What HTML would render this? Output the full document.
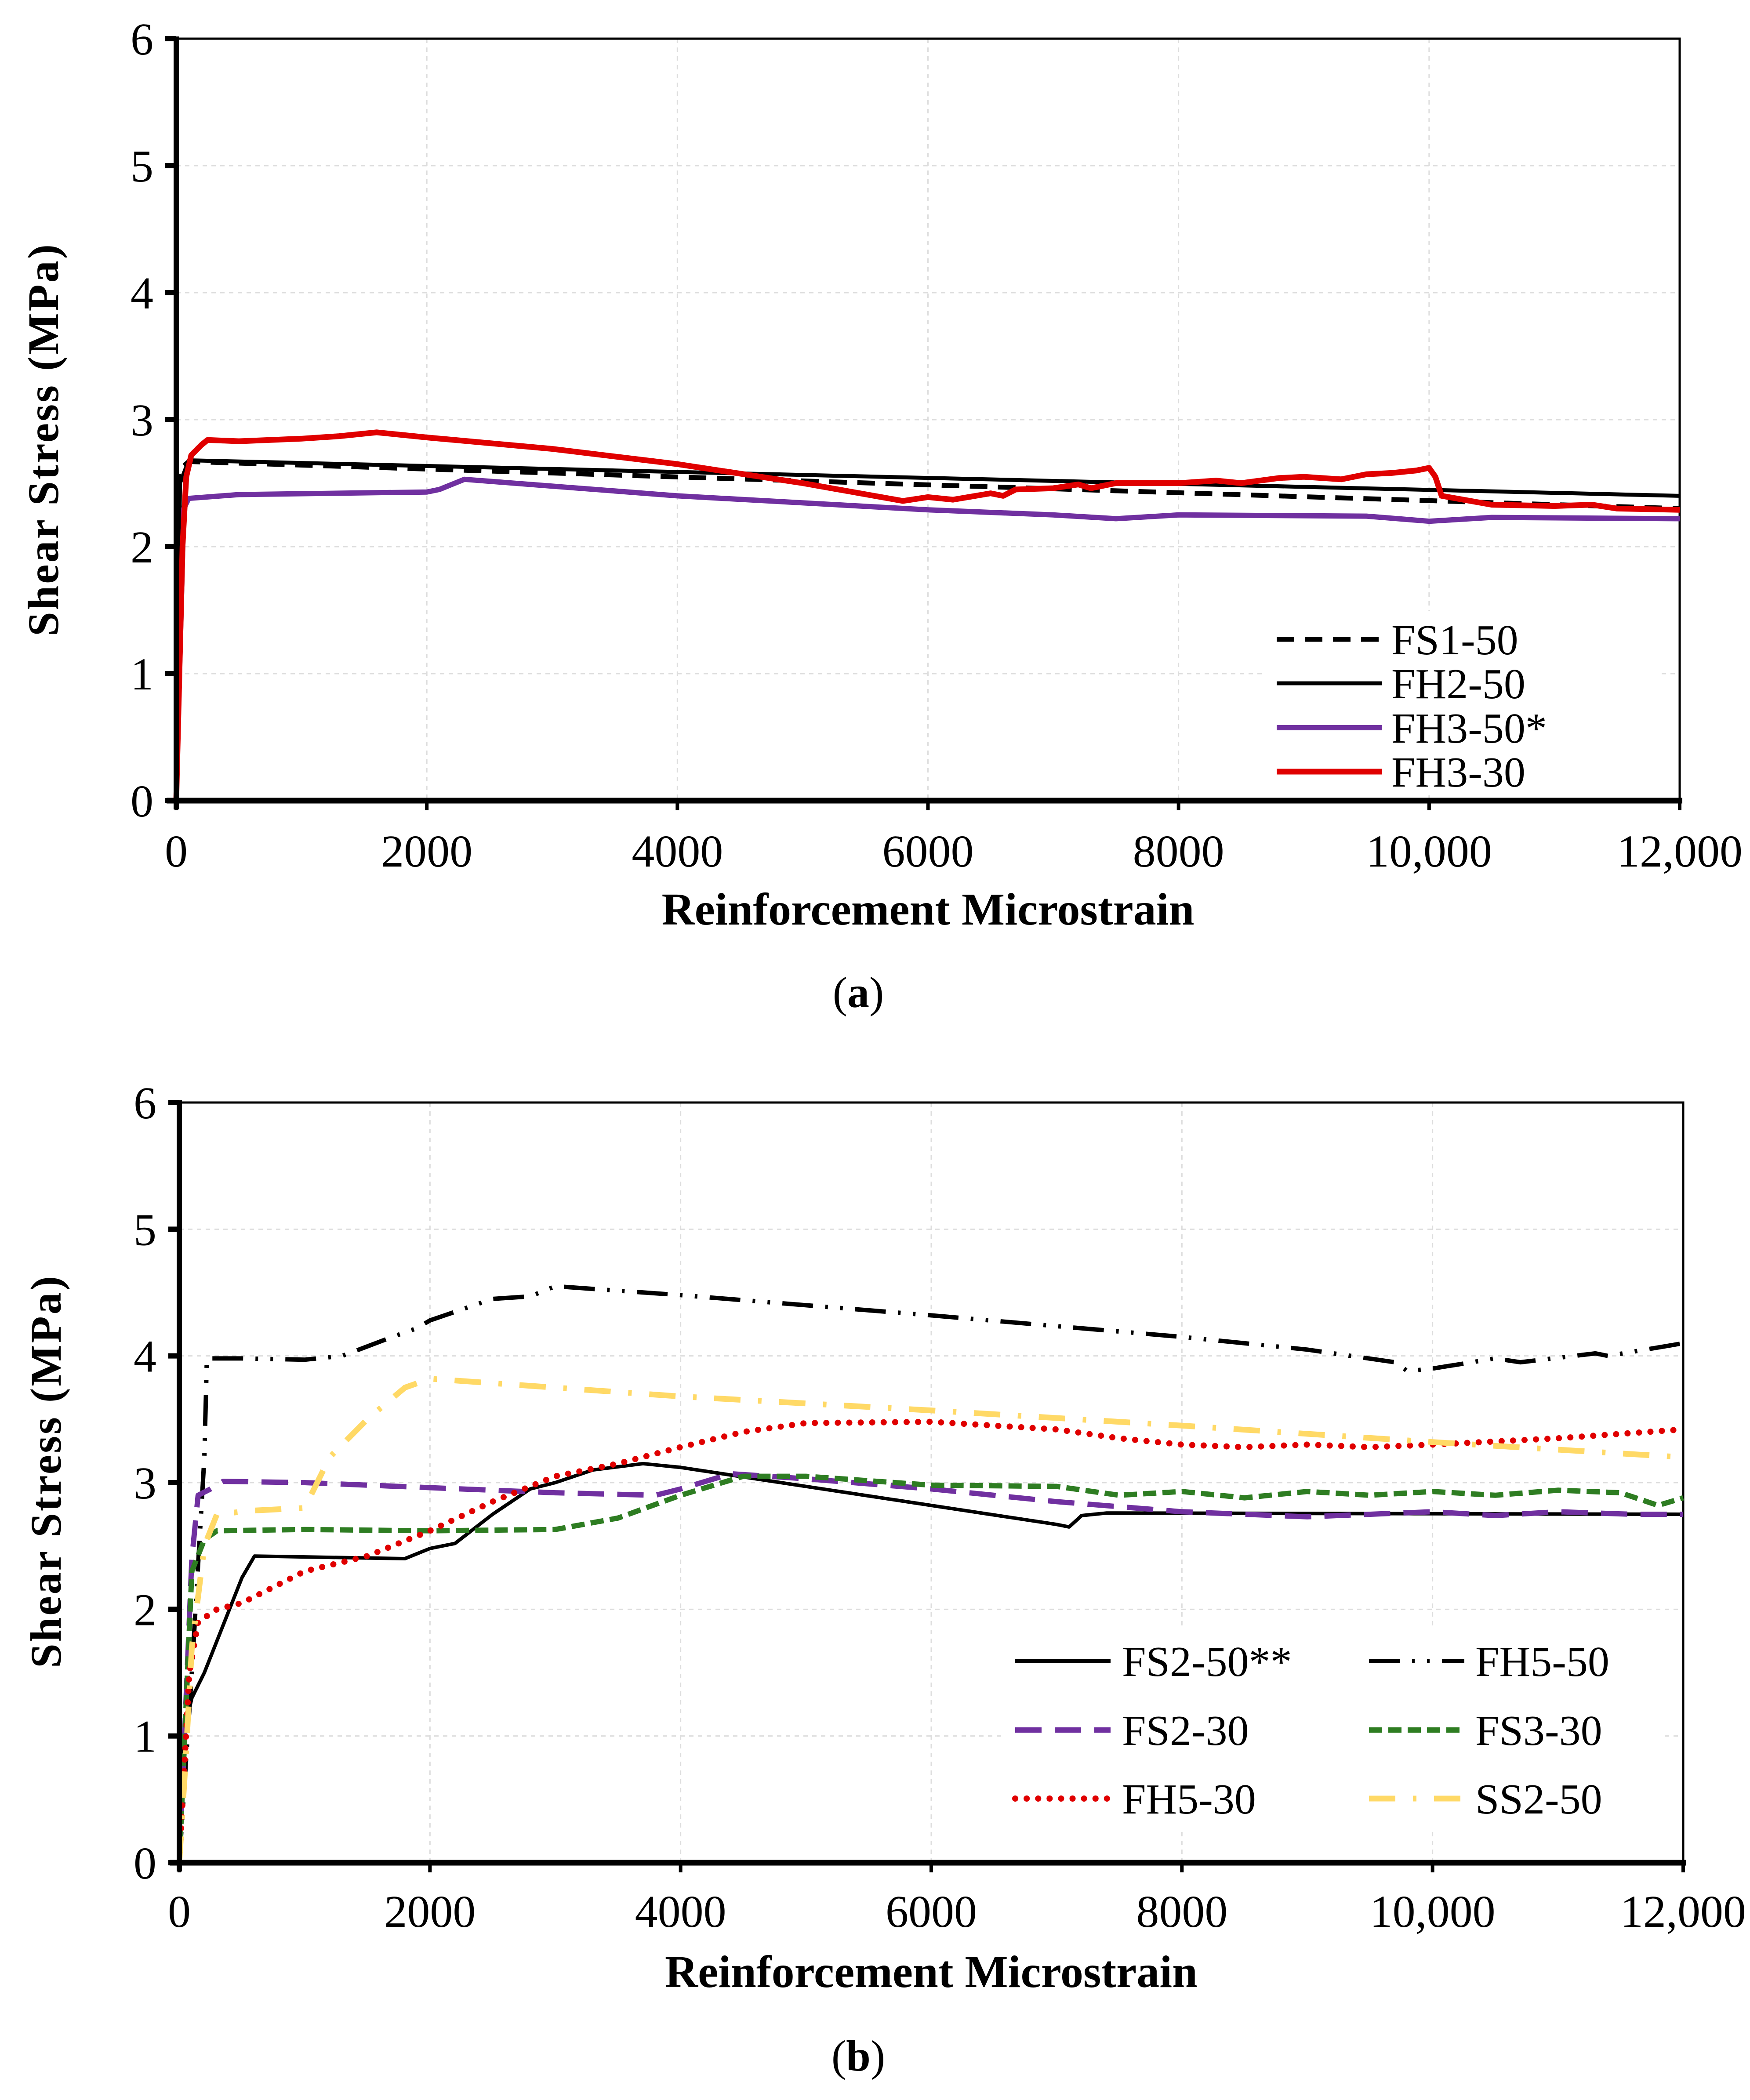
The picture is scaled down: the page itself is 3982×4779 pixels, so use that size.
<!DOCTYPE html>
<html><head><meta charset="utf-8"><style>
html,body{margin:0;padding:0;background:#fff;}
svg{display:block;font-family:"Liberation Serif",serif;}
</style></head><body>
<svg id="fig" width="3982" height="4779" viewBox="0 0 3982 4779" xmlns="http://www.w3.org/2000/svg">
<rect width="3982" height="4779" fill="#fff"/>
</svg>
<script>
// ---- Chart (a) data ----
const aFS150x=[0,20,100,12000];
const aFS150y=[0,2.6,2.67,2.3];
const aFH250x=[0,30,100,12000];
const aFH250y=[0,2.5,2.68,2.4];
const aFH350x=[0,60,100,500,2000,2100,2300,4000,6000,7000,7500,8000,9500,10000,10500,12000];
const aFH350y=[0,2.3,2.38,2.41,2.43,2.45,2.53,2.4,2.29,2.25,2.22,2.25,2.24,2.2,2.23,2.22];
const aFH330x=[0,50,80,120,200,250,500,1000,1300,1600,2000,3000,4000,5000,5800,6000,6200,6500,6600,6700,7000,7200,7300,7500,8000,8300,8500,8800,9000,9300,9500,9700,9900,10000,10050,10100,10500,11000,11300,11500,12000];
const aFH330y=[0,2.0,2.55,2.72,2.8,2.84,2.83,2.85,2.87,2.9,2.86,2.77,2.65,2.5,2.36,2.39,2.37,2.42,2.4,2.45,2.46,2.49,2.46,2.5,2.5,2.52,2.5,2.54,2.55,2.53,2.57,2.58,2.6,2.62,2.55,2.4,2.33,2.32,2.33,2.3,2.29];
// ---- Chart (b) data ----
const bFS250x=[0,30,100,200,400,500,600,1800,2000,2200,2500,2800,3000,3300,3700,4000,7000,7100,7200,7400,12000];
const bFS250y=[0,1.0,1.3,1.5,2.0,2.25,2.42,2.4,2.48,2.52,2.75,2.95,3.0,3.1,3.15,3.12,2.67,2.65,2.74,2.76,2.75];
const bFH550x=[0,100,200,220,500,1000,1300,1700,1900,2000,2500,2800,3000,4000,6000,8000,9000,9700,9800,10000,10500,10700,11300,11400,12000];
const bFH550y=[0,1.5,3.2,3.98,3.98,3.97,4.0,4.15,4.22,4.28,4.45,4.47,4.55,4.48,4.32,4.15,4.05,3.95,3.88,3.9,3.98,3.95,4.02,4.0,4.1];
const bFS230x=[0,100,150,250,350,1000,2000,3000,3800,4000,4400,5000,6000,7000,8000,9000,10000,10500,11000,11600,12000];
const bFS230y=[0,2.4,2.9,2.95,3.01,3.0,2.96,2.92,2.9,2.95,3.07,3.03,2.95,2.85,2.77,2.73,2.77,2.74,2.77,2.75,2.75];
const bFS330x=[0,100,200,300,1000,2000,3000,3500,4000,4500,5000,6000,7000,7500,8000,8500,9000,9500,10000,10500,11000,11500,11800,12000];
const bFS330y=[0,2.3,2.55,2.62,2.63,2.62,2.63,2.72,2.9,3.05,3.05,2.98,2.97,2.9,2.93,2.88,2.93,2.9,2.93,2.9,2.94,2.92,2.82,2.88];
const bFH530x=[0,80,150,300,500,1000,1500,2000,2500,3000,3500,4000,4500,5000,6000,7000,7500,8000,8500,9000,9500,10000,11000,12000];
const bFH530y=[0,1.5,1.9,2.0,2.05,2.3,2.42,2.62,2.85,3.05,3.15,3.28,3.4,3.47,3.48,3.42,3.35,3.3,3.28,3.3,3.28,3.3,3.35,3.42];
const bSS250x=[0,50,100,200,300,600,1000,1200,1500,1800,2000,3000,4000,6000,8000,10000,12000];
const bSS250y=[0,0.8,1.7,2.5,2.75,2.78,2.8,3.2,3.5,3.75,3.82,3.75,3.68,3.57,3.45,3.32,3.2];
const xTicks=[0,2000,4000,6000,8000,10000,12000];
const xTickLabels=["0","2000","4000","6000","8000","10,000","12,000"];
const yTicks=[0,1,2,3,4,5,6];

const NS="http://www.w3.org/2000/svg";
const svg=document.getElementById('fig');
function mk(tag,attrs,parent){const e=document.createElementNS(NS,tag);for(const k in attrs)e.setAttribute(k,attrs[k]);(parent||svg).appendChild(e);return e;}

function chart(cfg){
  const g=mk('g',{});
  
  
  const X=v=>cfg.x0+(v/12000)*(cfg.x1-cfg.x0);
  const Y=v=>cfg.y0-(v/6)*(cfg.y0-cfg.y6);
  // grid
  xTicks.forEach(t=>{if(t>0&&t<12000){const l=mk('line',{x1:X(t),x2:X(t),y1:cfg.y6,y2:cfg.y0,stroke:'#ddd','stroke-width':3,'stroke-dasharray':'10 10'},g);
    
    }});
  yTicks.forEach(t=>{if(t>0&&t<6){const l=mk('line',{x1:cfg.x0,x2:cfg.x1,y1:Y(t),y2:Y(t),stroke:'#ddd','stroke-width':3,'stroke-dasharray':'10 10'},g);
    
    }});
  // legend box (white) to hide grid
  mk('rect',cfg.legendRect,g);
  // border
  mk('rect',{x:cfg.x0,y:cfg.y6,width:cfg.x1-cfg.x0,height:cfg.y0-cfg.y6,fill:'none',stroke:'#000','stroke-width':5},g);
  // series
  cfg.series.forEach(s=>{
    const d=s.x.map((v,i)=>(i?'L':'M')+X(v).toFixed(1)+','+Y(s.y[i]).toFixed(1)).join('');
    const p=mk('path',{d:d,fill:'none',stroke:s.color,'stroke-width':s.w,'stroke-linejoin':'round','stroke-linecap':s.cap||'butt'},g);
    if(s.dash)p.setAttribute('stroke-dasharray',s.dash);
    
    
  });
  // axes
  mk('line',{x1:cfg.x0,x2:cfg.x0,y1:cfg.y6-5,y2:cfg.y0+20,stroke:'#000','stroke-width':12},g);
  mk('line',{x1:cfg.x0-22,x2:cfg.x1+6,y1:cfg.y0,y2:cfg.y0,stroke:'#000','stroke-width':13},g);
  yTicks.forEach(t=>{mk('line',{x1:cfg.x0-25,x2:cfg.x0,y1:Y(t),y2:Y(t),stroke:'#000','stroke-width':12},g);
    const tx=mk('text',{x:cfg.x0-78,y:Y(t)+36,'font-size':104,'text-anchor':'middle'},g);tx.textContent=t;
    
    });
  xTicks.forEach((t,i)=>{mk('line',{x1:X(t),x2:X(t),y1:cfg.y0,y2:cfg.y0+22,stroke:'#000','stroke-width':8},g);
    const tx=mk('text',{x:X(t),y:cfg.xLabY,'font-size':104,'text-anchor':'middle'},g);tx.textContent=xTickLabels[i];
    
    });
  const xt=mk('text',{x:(cfg.x0+cfg.x1)/2,y:cfg.xTitleY,'font-size':104,'font-weight':'bold','text-anchor':'middle'},g);
  xt.textContent='Reinforcement Microstrain';
  
  
  const yt=mk('text',{x:0,y:0,'font-size':100,'font-weight':'bold','text-anchor':'middle','letter-spacing':4,transform:`translate(${cfg.yTitleX},${cfg.yTitleY}) rotate(-90)`},g);
  yt.textContent='Shear Stress (MPa)';
  
  
  // legend
  cfg.legend.forEach(L=>{
    const s=cfg.series.find(q=>q.id===L.id);
    const lg=mk('g',{},g);
    
    
    const ln=mk('line',{x1:L.lx1,x2:L.lx2,y1:L.y,y2:L.y,stroke:s.color,'stroke-width':s.w,'stroke-linecap':s.cap||'butt'},lg);
    if(s.dash)ln.setAttribute('stroke-dasharray',s.dash);
    const t=mk('text',{x:L.tx,y:L.y+34,'font-size':98},lg);t.textContent=L.label;
  });
  const cap=mk('text',{x:1953,y:cfg.capY,'font-size':100,'text-anchor':'middle'},g);
  cap.textContent='';
  const t1=mk('tspan',{},cap);t1.textContent='(';
  const t2=mk('tspan',{'font-weight':'bold'},cap);t2.textContent=cfg.capLetter;
  const t3=mk('tspan',{},cap);t3.textContent=')';
  
  
}

chart({name:'chart-a',x0:401,x1:3822,y0:1822,y6:88,xLabY:1972,xTitleY:2104,yTitleX:132,yTitleY:1000,capY:2292,capLetter:'a',
  legendRect:{x:2880,y:1390,width:900,height:420,fill:'#fff'},
  series:[
    {id:'FS1-50',x:aFS150x,y:aFS150y,color:'#000',w:11,dash:'40 24'},
    {id:'FH2-50',x:aFH250x,y:aFH250y,color:'#000',w:9},
    {id:'FH3-50',x:aFH350x,y:aFH350y,color:'#7030a0',w:12},
    {id:'FH3-30',x:aFH330x,y:aFH330y,color:'#e00000',w:13}],
  legend:[
    {id:'FS1-50',lx1:2905,lx2:3145,tx:3166,y:1455,label:'FS1-50'},
    {id:'FH2-50',lx1:2905,lx2:3145,tx:3166,y:1555,label:'FH2-50'},
    {id:'FH3-50',lx1:2905,lx2:3145,tx:3166,y:1656,label:'FH3-50*'},
    {id:'FH3-30',lx1:2905,lx2:3145,tx:3166,y:1756,label:'FH3-30'}]
});
chart({name:'chart-b',x0:408,x1:3830,y0:4239,y6:2509,xLabY:4385,xTitleY:4522,yTitleX:138,yTitleY:3348,capY:4712,capLetter:'b',
  legendRect:{x:2280,y:3700,width:1500,height:460,fill:'#fff'},
  series:[
    {id:'FS2-50',x:bFS250x,y:bFS250y,color:'#000',w:8},
    {id:'FH5-50',x:bFH550x,y:bFH550y,color:'#000',w:10,dash:'70 28 6 28 6 28'},
    {id:'FS2-30',x:bFS230x,y:bFS230y,color:'#7030a0',w:12,dash:'60 30'},
    {id:'FS3-30',x:bFS330x,y:bFS330y,color:'#2e7d22',w:12,dash:'30 14'},
    {id:'FH5-30',x:bFH530x,y:bFH530y,color:'#e00000',w:14,dash:'0.1 26',cap:'round'},
    {id:'SS2-50',x:bSS250x,y:bSS250y,color:'#ffd966',w:13,dash:'60 40 8 40'}],
  legend:[
    {id:'FS2-50',lx1:2310,lx2:2527,tx:2553,y:3780,label:'FS2-50**'},
    {id:'FH5-50',lx1:3115,lx2:3332,tx:3357,y:3780,label:'FH5-50'},
    {id:'FS2-30',lx1:2310,lx2:2527,tx:2553,y:3937,label:'FS2-30'},
    {id:'FS3-30',lx1:3115,lx2:3332,tx:3357,y:3937,label:'FS3-30'},
    {id:'FH5-30',lx1:2310,lx2:2527,tx:2553,y:4093,label:'FH5-30'},
    {id:'SS2-50',lx1:3115,lx2:3332,tx:3357,y:4093,label:'SS2-50'}]
});
</script>
</body></html>
